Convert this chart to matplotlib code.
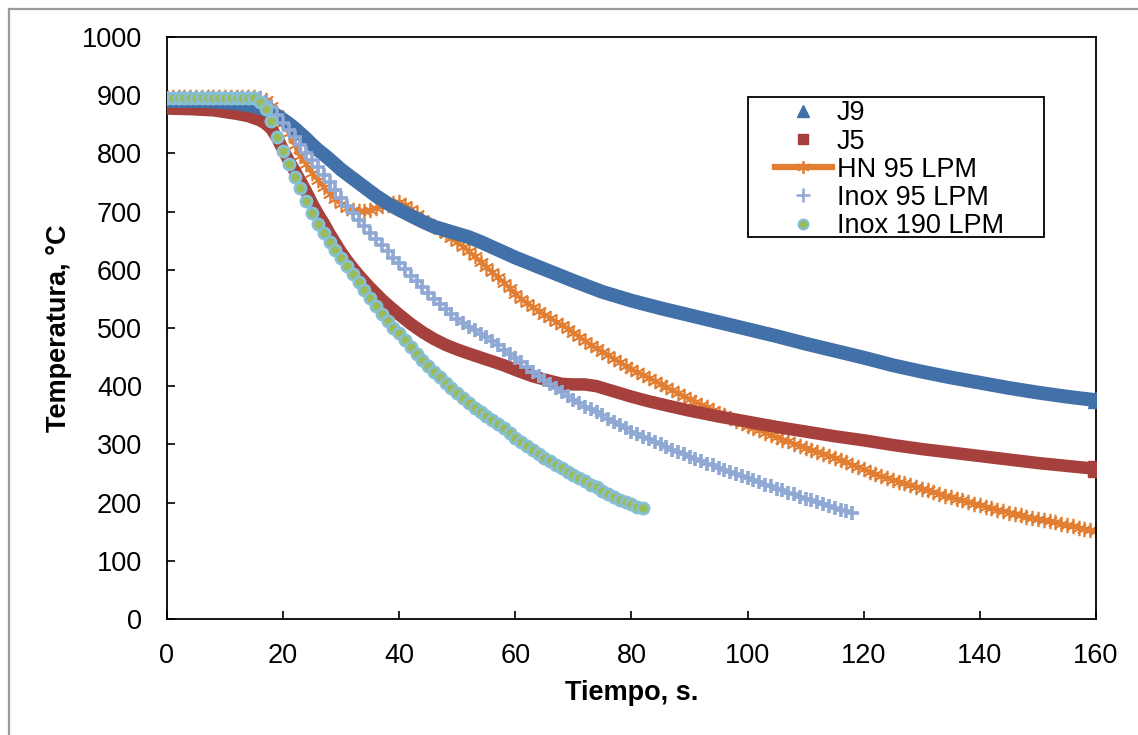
import matplotlib.pyplot as plt
from matplotlib.lines import Line2D
from matplotlib.patches import Rectangle

plt.rcParams['font.family'] = ['Liberation Sans', 'DejaVu Sans']

# J9 (thermocouple, dense record)
t_j9 = [0, 4, 8, 12, 15, 17, 18, 19, 20, 21, 22, 23, 24, 25, 26, 27.5, 29, 30, 32, 34,
        36, 38, 40, 42, 44, 46, 48, 50, 52, 54, 56, 58, 60, 63, 66, 70, 75, 80, 85, 90,
        95, 100, 105, 110, 115, 120, 125, 130, 135, 140, 145, 150, 155, 160]
temp_j9 = [890, 890, 889, 886, 881, 875, 870, 865, 858, 851, 843, 834, 825, 815, 806, 794, 781, 772, 757, 742,
           727, 714, 703, 693, 683, 674, 668, 662, 656, 648, 639, 630, 621, 609, 597, 581, 562, 547, 534, 522,
           510, 498, 486, 473, 461, 449, 436, 425, 415, 406, 397, 389, 382, 376]

# J5
t_j5 = [0, 4, 8, 12, 14, 16, 17, 18, 19, 20, 21, 22, 23, 24, 25, 26, 27, 28, 29, 30,
        31, 32, 33, 34, 35, 36, 37, 38, 40, 42, 44, 46, 48, 50, 52, 55, 58, 60, 63, 66,
        68, 70, 72, 74, 77, 80, 83, 86, 90, 95, 100, 105, 110, 115, 120, 125, 130, 135,
        140, 145, 150, 155, 160]
temp_j5 = [877, 876, 874, 868, 864, 857, 851, 842, 826, 806, 787, 770, 752, 734, 714, 696, 680, 662, 646, 630,
           616, 603, 591, 580, 569, 559, 549, 540, 523, 507, 493, 481, 471, 463, 456, 446, 436, 428, 417, 409,
           404, 403, 403, 400, 391, 382, 374, 367, 358, 348, 339, 330, 322, 314, 307, 299, 292, 286,
           280, 274, 268, 263, 258]

# HN 95 LPM, one reading per second from 0 s
temp_hn = [897, 897, 897, 897, 897, 897, 897, 897, 897, 897, 897, 897, 897, 897, 897, 897,
           896, 892, 882, 868, 852, 835, 815, 796, 781, 767, 754, 742, 731, 721,
           713, 707, 703, 701, 701, 703, 706, 709, 712, 715, 716, 712, 704, 695, 688,
           681, 675, 668, 661, 654, 647, 640, 632, 623, 614, 605, 596, 587, 578, 569,
           559, 550, 543, 536, 529, 523, 517, 511, 505, 499, 492, 485, 478, 471, 465,
           459, 453, 447, 441, 435, 429, 424, 419, 414, 409, 404, 398, 393, 388, 383,
           378, 373, 368, 364, 359, 354, 350, 345, 341, 337, 332, 328, 324, 320, 316,
           312, 308, 305, 301, 298, 294, 291, 287, 284, 280, 277, 273, 269, 265, 261,
           257, 253, 249, 245, 242, 239, 236, 233, 230, 227, 224, 221, 218, 215, 212,
           209, 206, 204, 201, 198, 196, 193, 190, 188, 186, 183, 181, 179, 176, 174,
           172, 170, 168, 166, 164, 162, 159, 157, 155, 153, 151]

# Inox 95 LPM, one reading per second from 0 s
temp_inox95 = [895, 895, 895, 895, 895, 895, 895, 895, 895, 895, 895, 895, 895, 895, 895, 895,
               895, 889, 879, 866, 852, 840, 828, 815, 801, 789, 776, 763, 750, 737,
               724, 710, 697, 686, 675, 664, 653, 642, 632, 621, 611, 601, 590, 580, 570,
               560, 550, 541, 532, 524, 516, 509, 502, 496, 490, 484, 477, 470, 463, 456,
               448, 441, 433, 425, 418, 411, 404, 397, 390, 383, 377, 371, 365, 360, 355,
               350, 344, 339, 333, 328, 322, 318, 313, 309, 304, 300, 295, 291, 287, 283,
               279, 275, 271, 267, 264, 260, 256, 253, 249, 245, 242, 238, 235, 231, 228,
               224, 221, 217, 214, 210, 207, 204, 201, 197, 194, 191, 188, 185, 182]

# Inox 190 LPM, one reading per second from 0 s
temp_inox190 = [896, 896, 896, 896, 896, 896, 896, 896, 896, 896, 896, 896, 896, 896, 896, 896,
                889, 877, 856, 828, 804, 781, 760, 740, 718, 697, 679, 663, 648, 634,
                620, 606, 592, 579, 565, 551, 537, 524, 512, 500, 491, 479, 467, 456, 445,
                435, 425, 415, 406, 397, 388, 379, 371, 363, 356, 349, 342, 335, 328, 320,
                311, 304, 297, 290, 283, 277, 271, 265, 259, 253, 248, 242, 237, 231, 226,
                220, 215, 210, 205, 201, 197, 193, 190]

t_hn = list(range(len(temp_hn)))
t_inox95 = list(range(len(temp_inox95)))
t_inox190 = list(range(len(temp_inox190)))

c_j9 = '#4270A8'
c_j5 = '#A6403D'
c_hn = '#E17E32'
c_inox95 = '#8FA8D4'
c_inox190_face = '#9BBB59'
c_inox190_edge = '#86BFD6'

fig = plt.figure(figsize=(11.38, 7.35), dpi=100)
ax = fig.add_axes([0.1467, 0.1578, 0.8164, 0.7919])

ax.plot(t_hn, temp_hn, color=c_hn, lw=3.0, marker=(6, 2, 0), ms=11, mew=1.2,
        mec=c_hn, zorder=2)
ax.plot(t_j5, temp_j5, color=c_j5, lw=9, solid_capstyle='butt',
        marker='s', markevery=[-1], ms=11, zorder=3)
ax.plot(t_j9, temp_j9, color=c_j9, lw=10, solid_capstyle='butt',
        marker='^', markevery=[-1], ms=12, zorder=4)
ax.plot(t_inox95, temp_inox95, ls='none', marker='+', ms=10, mew=2.6,
        color=c_inox95, zorder=5)
ax.plot(t_inox190, temp_inox190, ls='none', marker='o', ms=8, mew=2.0,
        mfc=c_inox190_face, mec=c_inox190_edge, zorder=6)

ax.set_xlim(0, 160)
ax.set_ylim(0, 1000)
ax.set_xticks(range(0, 161, 20))
ax.set_yticks(range(0, 1001, 100))
ax.tick_params(direction='in', length=6, width=1.2, labelsize=19.5)
ax.tick_params(axis='x', pad=17)
ax.tick_params(axis='y', pad=18)
for s in ax.spines.values():
    s.set_linewidth(1.3)
    s.set_color('black')

ax.set_xlabel('Tiempo, s.', fontsize=19.5, fontweight='bold', labelpad=8)
ax.set_ylabel('Temperatura, °C', fontsize=19.5, fontweight='bold', labelpad=7)

# legend
handles = [
    Line2D([], [], ls='none', marker='^', ms=8, color=c_j9),
    Line2D([], [], ls='none', marker='s', ms=7, color=c_j5),
    Line2D([], [], color=c_hn, lw=4.5, marker=(6, 2, 0), ms=9, mew=1.3),
    Line2D([], [], ls='none', marker='+', ms=10, mew=1.8, color=c_inox95),
    Line2D([], [], ls='none', marker='o', ms=7, mew=1.6, mfc=c_inox190_face,
           mec=c_inox190_edge),
]
labels = ['J9', 'J5', 'HN 95 LPM', 'Inox 95 LPM', 'Inox 190 LPM']
ax.legend(handles, labels, loc='upper left', bbox_to_anchor=(0.6545, 0.891),
          frameon=False, fontsize=19.5, handlelength=2.1, handletextpad=0.18,
          labelspacing=0.08, borderpad=0, borderaxespad=0)
ax.add_patch(Rectangle((0.6254, 0.6564), 0.3186, 0.2405, transform=ax.transAxes,
                       fill=False, ec='black', lw=1.3, zorder=10, clip_on=False))

# chart area border (only top and left edges fall inside the picture)
fig.add_artist(Line2D([0.0075, 0.0075], [0, 0.9878], color='#9a9a9a', lw=1.6))
fig.add_artist(Line2D([0.0075, 1], [0.9878, 0.9878], color='#9a9a9a', lw=1.6))

fig.savefig('out.png', dpi=100)
